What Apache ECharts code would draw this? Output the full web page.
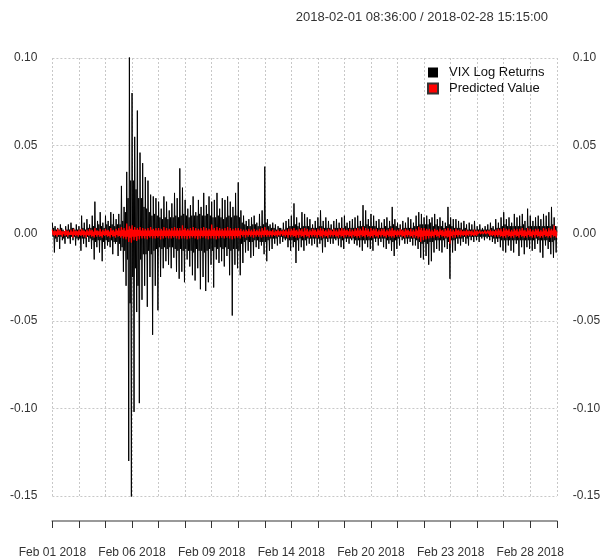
<!DOCTYPE html>
<html><head><meta charset="utf-8">
<script src="https://cdn.jsdelivr.net/npm/echarts@6/dist/echarts.min.js"></script>
<style>html,body{margin:0;padding:0;background:#fff;overflow:hidden;width:600px;height:559px}#c{width:600px;height:559px}</style>
</head><body><div id="c"></div>
<script>
const chartTitle = "2018-02-01 08:36:00 / 2018-02-28 15:15:00";
const seriesNames = ["VIX Log Returns", "Predicted Value"];
const tickLabels = ["Feb 01 2018","Feb 06 2018","Feb 09 2018","Feb 14 2018","Feb 20 2018","Feb 23 2018","Feb 28 2018"];
const obsPerTick = 40;      // observations between axis ticks
const ticksPerLabel = 3;    // a date label on every third tick
const yMin = -0.15, yMax = 0.10, yStep = 0.05;

const vixLogReturns = [
.006,-.002,.003,-.011,.004,-.003,.002,-.005,.003,-.002,.002,-.009,.005,-.002,.003,-.004,.002,-.003,.001,-.006,
.004,-.002,.002,-.003,.005,-.003,.002,-.006,.006,-.002,.003,-.004,.003,-.002,.002,-.007,.005,-.003,.002,-.004,
.004,-.003,.002,-.010,.010,-.003,.003,-.006,.006,-.003,.002,-.008,.008,-.002,.003,-.005,.005,-.003,.003,-.009,
.010,-.004,.004,-.015,.018,-.005,.003,-.008,.007,-.004,.005,-.011,.012,-.004,.004,-.016,.006,-.005,.003,-.009,
.010,-.004,.005,-.007,.007,-.005,.004,-.008,.012,-.004,.005,-.012,.011,-.005,.004,-.006,.008,-.005,.005,-.013,
.011,-.006,.005,-.010,.027,-.008,.007,-.022,.015,-.010,.012,-.030,.035,-.015,.020,-.130,.102,-.040,.030,-.151,
.080,-.025,.030,-.102,.055,-.020,.025,-.045,.070,-.030,.020,-.097,.046,-.015,.020,-.038,.040,-.012,.015,-.030,
.032,-.012,.014,-.042,.030,-.010,.012,-.025,.022,-.012,.010,-.058,.021,-.010,.011,-.030,.020,-.009,.010,-.044,
.018,-.008,.009,-.025,.014,-.009,.008,-.020,.021,-.008,.009,-.016,.018,-.009,.008,-.018,.013,-.008,.009,-.020,
.017,-.008,.009,-.014,.023,-.009,.010,-.022,.020,-.010,.009,-.026,.037,-.009,.010,-.022,.026,-.010,.011,-.028,
.019,-.009,.010,-.015,.014,-.010,.009,-.019,.016,-.010,.010,-.024,.021,-.011,.010,-.027,.012,-.009,.010,-.020,
.019,-.010,.011,-.032,.015,-.010,.010,-.025,.023,-.011,.010,-.033,.016,-.010,.011,-.028,.021,-.009,.010,-.018,
.018,-.010,.009,-.031,.019,-.008,.009,-.015,.023,-.009,.010,-.017,.014,-.008,.009,-.016,.020,-.009,.008,-.019,
.019,-.008,.009,-.013,.021,-.009,.010,-.024,.018,-.010,.009,-.047,.015,-.009,.010,-.018,.023,-.009,.010,-.020,
.029,-.010,.009,-.024,.013,-.006,.006,-.017,.010,-.005,.005,-.011,.007,-.004,.004,-.010,.008,-.005,.004,-.014,
.009,-.005,.005,-.013,.010,-.004,.005,-.008,.006,-.004,.004,-.009,.011,-.005,.004,-.007,.013,-.005,.005,-.012,
.038,-.005,.006,-.016,.008,-.004,.004,-.010,.005,-.003,.003,-.009,.006,-.003,.003,-.006,.005,-.003,.002,-.007,
.004,-.002,.003,-.006,.003,-.002,.002,-.005,.006,-.003,.002,-.004,.007,-.003,.003,-.008,.008,-.004,.004,-.010,
.010,-.004,.004,-.008,.017,-.005,.005,-.017,.009,-.004,.004,-.010,.006,-.003,.003,-.008,.012,-.004,.004,-.010,
.011,-.004,.004,-.007,.009,-.003,.004,-.006,.008,-.003,.003,-.007,.005,-.003,.003,-.006,.007,-.003,.003,-.008,
.009,-.003,.004,-.006,.013,-.004,.004,-.011,.007,-.003,.003,-.008,.009,-.003,.003,-.005,.007,-.003,.003,-.006,
.005,-.003,.002,-.006,.007,-.003,.003,-.004,.008,-.003,.003,-.007,.006,-.003,.003,-.008,.009,-.004,.003,-.009,
.010,-.003,.004,-.005,.006,-.003,.003,-.006,.007,-.003,.003,-.004,.008,-.003,.003,-.006,.009,-.004,.003,-.007,
.010,-.004,.004,-.008,.007,-.004,.004,-.010,.016,-.004,.004,-.006,.013,-.004,.005,-.008,.008,-.004,.004,-.009,
.011,-.004,.004,-.010,.010,-.003,.004,-.005,.007,-.003,.003,-.007,.008,-.003,.003,-.005,.006,-.003,.003,-.008,
.008,-.003,.004,-.009,.009,-.004,.003,-.006,.007,-.004,.004,-.010,.015,-.005,.005,-.013,.008,-.004,.004,-.009,
.006,-.003,.003,-.007,.005,-.002,.002,-.004,.007,-.003,.003,-.006,.006,-.003,.003,-.006,.009,-.003,.003,-.005,
.008,-.003,.003,-.007,.006,-.003,.004,-.007,.010,-.004,.004,-.009,.012,-.005,.005,-.014,.011,-.006,.005,-.015,
.009,-.005,.005,-.013,.010,-.006,.005,-.018,.008,-.005,.006,-.016,.009,-.005,.004,-.011,.011,-.004,.005,-.009,
.008,-.004,.004,-.010,.009,-.004,.004,-.011,.007,-.004,.003,-.008,.006,-.003,.004,-.009,.015,-.005,.005,-.026,
.009,-.004,.004,-.011,.008,-.004,.003,-.010,.008,-.003,.003,-.006,.007,-.003,.003,-.007,.006,-.003,.002,-.005,
.007,-.002,.003,-.006,.005,-.003,.002,-.007,.006,-.002,.002,-.004,.005,-.002,.002,-.005,.007,-.002,.002,-.004,
.004,-.002,.002,-.005,.005,-.002,.002,-.003,.003,-.002,.002,-.004,.004,-.002,.002,-.003,.005,-.002,.002,-.004,
.006,-.002,.003,-.005,.004,-.003,.002,-.006,.008,-.003,.003,-.005,.006,-.003,.003,-.008,.009,-.004,.004,-.010,
.012,-.004,.005,-.011,.008,-.004,.004,-.007,.009,-.004,.004,-.010,.006,-.004,.004,-.011,.011,-.004,.004,-.006,
.009,-.004,.004,-.013,.010,-.004,.004,-.008,.011,-.004,.005,-.012,.007,-.004,.003,-.008,.014,-.004,.004,-.009,
.010,-.004,.004,-.010,.007,-.004,.004,-.009,.009,-.003,.004,-.006,.010,-.004,.004,-.011,.008,-.004,.004,-.014,
.011,-.004,.004,-.007,.010,-.004,.004,-.009,.012,-.005,.004,-.012,.015,-.005,.005,-.014,.009,-.004,.004,-.011,
.004
];

const predictedValue = [
.002,-.001,.001,-.0015,.0015,-.001,.001,-.002,.0025,-.001,.0015,-.001,.002,-.001,.001,-.002,.001,-.0005,.001,-.0015,
.002,-.001,.001,-.002,.0015,-.001,.0005,-.001,.002,-.001,.001,-.0025,.0025,-.001,.001,-.0015,.0015,-.001,.001,-.002,
.002,-.001,.001,-.0015,.0025,-.001,.0015,-.002,.0015,-.001,.001,-.0025,.002,-.001,.001,-.0015,.0025,-.001,.0015,-.002,
.002,-.0015,.001,-.0025,.003,-.001,.0015,-.002,.0015,-.001,.001,-.002,.0025,-.0015,.001,-.0025,.002,-.001,.001,-.0015,
.0025,-.001,.0015,-.002,.002,-.0015,.001,-.0025,.003,-.001,.0015,-.002,.002,-.0015,.001,-.0025,.0025,-.001,.0015,-.002,
.003,-.0015,.0015,-.0025,.0035,-.0015,.002,-.003,.003,-.002,.0015,-.0035,.0055,-.002,.002,-.005,.004,-.0025,.0025,-.0055,
.0045,-.002,.002,-.004,.0035,-.002,.002,-.0045,.003,-.0015,.002,-.0035,.0035,-.0015,.0015,-.003,.003,-.0015,.0015,-.003,
.0025,-.0015,.0015,-.0035,.003,-.0015,.0015,-.0025,.0035,-.0015,.002,-.003,.0025,-.0015,.0015,-.003,.003,-.0015,.0015,-.0025,
.003,-.0015,.0015,-.0035,.0025,-.0015,.0015,-.003,.0035,-.0015,.0015,-.0025,.003,-.0015,.0015,-.003,.0025,-.0015,.0015,-.003,
.003,-.0015,.0015,-.0025,.0035,-.0015,.0015,-.003,.003,-.0015,.0015,-.0035,.003,-.0015,.0015,-.003,.0045,-.0015,.002,-.003,
.003,-.0015,.0015,-.0035,.0025,-.0015,.0015,-.003,.003,-.0015,.0015,-.0025,.0035,-.0015,.0015,-.003,.003,-.0015,.0015,-.0035,
.0025,-.0015,.0015,-.003,.003,-.0015,.0015,-.0025,.0035,-.0015,.0015,-.003,.003,-.0015,.0015,-.0035,.0025,-.0015,.0015,-.003,
.005,-.0015,.002,-.003,.003,-.0015,.0015,-.0035,.0035,-.0015,.0015,-.003,.003,-.0015,.0015,-.0025,.0025,-.0015,.0015,-.003,
.003,-.0015,.0015,-.0025,.0035,-.0015,.0015,-.003,.003,-.0015,.0015,-.0035,.0025,-.0015,.0015,-.003,.003,-.0015,.0015,-.0025,
.003,-.0015,.0015,-.003,.0025,-.001,.001,-.002,.002,-.001,.001,-.0025,.002,-.001,.001,-.002,.0025,-.001,.001,-.002,
.002,-.001,.001,-.0025,.0025,-.001,.001,-.002,.002,-.001,.001,-.002,.0025,-.001,.001,-.0025,.003,-.001,.0015,-.002,
.0035,-.001,.0015,-.002,.002,-.001,.001,-.002,.0015,-.001,.001,-.002,.002,-.001,.0005,-.0015,.0015,-.001,.001,-.002,
.002,-.001,.001,-.0015,.0015,-.0005,.001,-.0015,.002,-.001,.001,-.002,.002,-.001,.001,-.0025,.0025,-.001,.001,-.002,
.0025,-.001,.0015,-.002,.003,-.0015,.0015,-.0025,.002,-.001,.001,-.0025,.0025,-.001,.0015,-.002,.0025,-.0015,.001,-.0025,
.003,-.001,.0015,-.002,.0025,-.0015,.001,-.0025,.002,-.001,.001,-.002,.0025,-.001,.0015,-.002,.002,-.001,.001,-.0025,
.0025,-.001,.0015,-.002,.003,-.0015,.0015,-.0025,.0025,-.001,.001,-.002,.002,-.0015,.001,-.0025,.0025,-.001,.0015,-.002,
.002,-.001,.001,-.002,.0025,-.001,.001,-.002,.002,-.0015,.001,-.0025,.0025,-.001,.0015,-.002,.003,-.0015,.0015,-.0025,
.0025,-.001,.0015,-.002,.002,-.001,.001,-.002,.0025,-.0015,.001,-.0025,.002,-.001,.001,-.002,.0025,-.0015,.0015,-.0025,
.003,-.0015,.0015,-.0025,.0025,-.001,.0015,-.002,.0036,-.0015,.0015,-.0025,.003,-.001,.0015,-.002,.0025,-.0015,.001,-.0025,
.003,-.0015,.0015,-.0025,.0025,-.001,.0015,-.002,.0025,-.0015,.001,-.0025,.002,-.001,.001,-.002,.0025,-.001,.0015,-.002,
.0025,-.0015,.001,-.0025,.002,-.001,.001,-.002,.0025,-.0015,.0015,-.0025,.003,-.0015,.0015,-.0025,.002,-.001,.001,-.002,
.002,-.001,.001,-.002,.0025,-.001,.0015,-.002,.002,-.0015,.001,-.0025,.0025,-.001,.0015,-.002,.002,-.001,.001,-.002,
.0025,-.0015,.001,-.0025,.002,-.001,.001,-.0025,.0025,-.0015,.0015,-.003,.0036,-.002,.002,-.005,.003,-.002,.0015,-.004,
.003,-.0015,.0015,-.0035,.0025,-.0015,.0015,-.003,.0025,-.0015,.001,-.0025,.002,-.0015,.001,-.0025,.0025,-.001,.0015,-.002,
.002,-.0015,.001,-.0025,.0025,-.001,.0015,-.002,.002,-.0015,.001,-.0025,.0025,-.0015,.0015,-.0025,.003,-.002,.0015,-.006,
.0025,-.0015,.001,-.0025,.002,-.001,.001,-.0025,.0025,-.001,.0015,-.002,.002,-.001,.001,-.002,.002,-.001,.001,-.0015,
.0015,-.001,.001,-.002,.002,-.001,.001,-.0015,.0015,-.0005,.001,-.0015,.0015,-.001,.0005,-.0015,.002,-.001,.001,-.0015,
.0015,-.0005,.0005,-.0015,.0015,-.0005,.0005,-.001,.001,-.0005,.0005,-.0015,.0015,-.0005,.0005,-.001,.0015,-.0005,.001,-.0015,
.002,-.001,.001,-.0015,.0015,-.001,.001,-.002,.002,-.001,.001,-.002,.0025,-.001,.0015,-.002,.0025,-.0015,.001,-.0025,
.003,-.0015,.0015,-.0025,.0025,-.001,.0015,-.002,.0025,-.0015,.001,-.0025,.002,-.0015,.001,-.0025,.0025,-.001,.0015,-.002,
.0025,-.0015,.001,-.0025,.0025,-.001,.0015,-.002,.003,-.0015,.0015,-.0025,.002,-.0015,.001,-.0025,.003,-.001,.0015,-.002,
.0025,-.0015,.001,-.0025,.002,-.001,.001,-.0025,.0025,-.001,.0015,-.002,.0025,-.0015,.001,-.0025,.002,-.0015,.001,-.0025,
.003,-.001,.0015,-.002,.0025,-.0015,.001,-.0025,.003,-.0015,.0015,-.0025,.0025,-.001,.0015,-.002,.0045,-.0015,.002,-.0025,
.001
];

const lastIndex = vixLogReturns.length - 1;
const FONT = "'Liberation Sans', Arial, sans-serif";
const chart = echarts.init(document.getElementById('c'), null, {renderer: 'canvas', width: 600, height: 559});
const gridLine = {show: true, lineStyle: {color: '#c8c8c8', type: [2, 2], width: 1}};
const yAxisCommon = {
  type: 'value', min: yMin, max: yMax, interval: yStep,
  axisLine: {show: false}, axisTick: {show: false},
  axisLabel: {color: '#333', fontSize: 12, fontFamily: FONT, formatter: v => v.toFixed(2)}
};
chart.setOption({
  animation: false,
  backgroundColor: '#fff',
  title: {
    text: chartTitle, right: 47, top: 6,
    textStyle: {fontSize: 13, fontWeight: 'normal', color: '#333', fontFamily: FONT}
  },
  legend: {
    data: seriesNames, orient: 'vertical', left: 422, top: 61,
    itemWidth: 10, itemHeight: 10, itemGap: 3, icon: 'rect',
    textStyle: {fontSize: 13, color: '#111', fontFamily: FONT, padding: [0, 0, 0, 6]}
  },
  grid: {left: 52.4, right: 43.2, top: 58, bottom: 63, containLabel: false, outerBoundsMode: 'none'},
  xAxis: {
    type: 'value', min: 0, max: lastIndex, interval: obsPerTick,
    offset: 25,
    axisLine: {show: true, onZero: false, lineStyle: {color: '#999', width: 2}},
    axisTick: {show: true, length: 7, lineStyle: {color: '#333', width: 1}},
    axisLabel: {
      color: '#333', fontSize: 12, fontFamily: FONT, margin: 26,
      showMinLabel: true, showMaxLabel: true, hideOverlap: false,
      formatter: v => {
        const k = Math.round(v / obsPerTick);
        return (k % ticksPerLabel === 0 && tickLabels[k / ticksPerLabel]) ? tickLabels[k / ticksPerLabel] : '';
      }
    },
    splitLine: gridLine
  },
  yAxis: [
    Object.assign({}, yAxisCommon, {position: 'left',
      axisLabel: Object.assign({}, yAxisCommon.axisLabel, {margin: 15}),
      splitLine: gridLine}),
    Object.assign({}, yAxisCommon, {position: 'right',
      axisLabel: Object.assign({}, yAxisCommon.axisLabel, {margin: 16}),
      splitLine: {show: false}})
  ],
  series: [
    {
      name: seriesNames[0], type: 'line', yAxisIndex: 0,
      data: vixLogReturns.map((v, i) => [i, v]),
      showSymbol: false, symbol: 'none', sampling: null,
      lineStyle: {color: '#000', width: 1}, itemStyle: {color: '#000', borderColor: '#000'},
      z: 2
    },
    {
      name: seriesNames[1], type: 'line', yAxisIndex: 0,
      data: predictedValue.map((v, i) => [i, v]),
      showSymbol: false, symbol: 'none', sampling: null,
      lineStyle: {color: '#ff0000', width: 1.3}, itemStyle: {color: '#ff0000', borderColor: '#333', borderWidth: 1},
      z: 3
    }
  ]
});
</script></body></html>
